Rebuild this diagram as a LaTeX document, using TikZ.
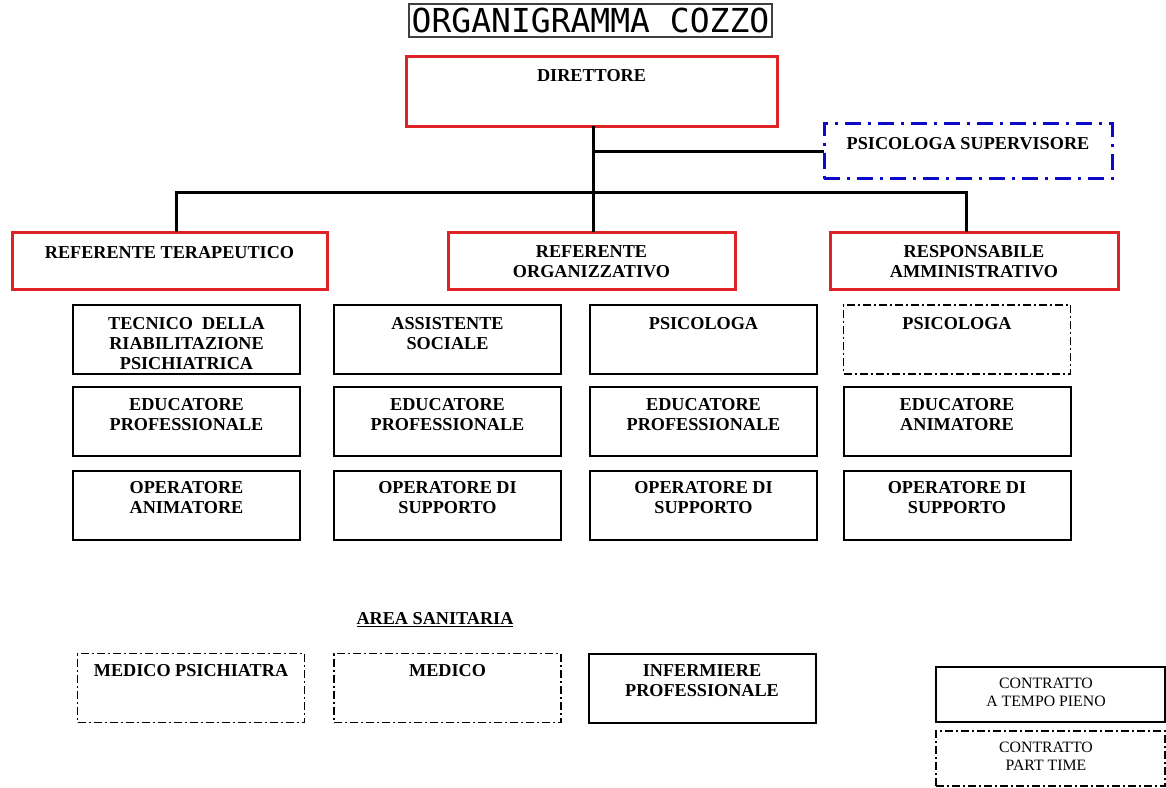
\documentclass[tikz,border=0pt]{standalone}
\usepackage{fontspec}
\setmainfont{Liberation Serif}
\newfontfamily\titlefont{DejaVu Sans Mono}
\definecolor{myred}{RGB}{222,34,38}
\definecolor{myblue}{RGB}{10,10,200}
\begin{document}
\begin{tikzpicture}[x=1pt,y=-1pt,
  redbox/.style={draw=myred,line width=3pt,inner sep=0,outer sep=0,rectangle},
  blkbox/.style={draw=black,line width=2pt,inner sep=0,outer sep=0,rectangle},
  dashbox/.style={draw=black,line width=1.4pt,inner sep=0,outer sep=0,rectangle,dash pattern=on 8pt off 3pt on 2pt off 3pt},
  bluebox/.style={draw=myblue,line width=3pt,inner sep=0,outer sep=0,rectangle,dash pattern=on 16pt off 7pt on 3pt off 7pt},
  small/.style={minimum width=227pt,minimum height=69pt},
  lbl/.style={font=\bfseries\fontsize{18.2}{20}\selectfont,align=center,inner sep=0,anchor=north},
  leg/.style={font=\fontsize{15.8}{18}\selectfont,align=center,inner sep=0,anchor=north},
  conn/.style={line width=3pt,black}]
\useasboundingbox (0,0) rectangle (1166,787);
\fill[white] (0,0) rectangle (1166,787);

% title
\node[draw=black!75,line width=1.4pt,minimum width=363pt,minimum height=33pt,inner sep=0,font=\titlefont\fontsize{33}{33}\selectfont] (title) at (590.5,20.5) {ORGANIGRAMMA COZZO};

% top level
\node[redbox,minimum width=371pt,minimum height=70pt] (dir) at (591.5,91) {};
\node[lbl] (dirT) at ([yshift=-13pt]dir.north) {DIRETTORE};

\node[bluebox,minimum width=288pt,minimum height=55pt] (sup) at (968,151) {};
\node[lbl] (supT) at ([yshift=-14pt]sup.north) {PSICOLOGA SUPERVISORE};

\node[redbox,minimum width=315pt,minimum height=57pt] (rt) at (169.5,260.5) {};
\node[lbl] (rtT) at ([yshift=-14pt]rt.north) {REFERENTE TERAPEUTICO};
\node[redbox,minimum width=287pt,minimum height=57pt] (ro) at (591.5,260.5) {};
\node[lbl] (roT) at ([yshift=-13pt]ro.north) {REFERENTE\\ORGANIZZATIVO};
\node[redbox,minimum width=288pt,minimum height=57pt] (ra) at (974,260.5) {};
\node[lbl] (raT) at ([yshift=-13pt]ra.north) {RESPONSABILE\\AMMINISTRATIVO};

% connectors
\coordinate (jn) at (593,192);
\draw[conn] ([xshift=1.5pt]dir.south) -- (jn);
\draw[conn] ([xshift=1.5pt]dir.south |- sup.west) -- (sup.west);
\draw[conn] ([xshift=6.5pt]rt.north) |- (jn) -| ([xshift=-8pt]ra.north);
\draw[conn] (jn) -- ([xshift=1.5pt]ro.north);

% column 1
\node[blkbox,small] (a1) at (186.5,339.5) {};
\node[lbl] (a1T) at ([yshift=-12pt]a1.north) {TECNICO\ \ DELLA\\RIABILITAZIONE\\PSICHIATRICA};
\node[blkbox,small] (a2) at (186.5,421.5) {};
\node[lbl] (a2T) at ([yshift=-11pt]a2.north) {EDUCATORE\\PROFESSIONALE};
\node[blkbox,small] (a3) at (186.5,505) {};
\node[lbl] (a3T) at ([yshift=-11pt]a3.north) {OPERATORE\\ANIMATORE};

% column 2
\node[blkbox,small] (b1) at (447.5,339.5) {};
\node[lbl] (b1T) at ([yshift=-12pt]b1.north) {ASSISTENTE\\SOCIALE};
\node[blkbox,small] (b2) at (447.5,421.5) {};
\node[lbl] (b2T) at ([yshift=-11pt]b2.north) {EDUCATORE\\PROFESSIONALE};
\node[blkbox,small] (b3) at (447.5,505) {};
\node[lbl] (b3T) at ([yshift=-11pt]b3.north) {OPERATORE DI\\SUPPORTO};

% column 3
\node[blkbox,small] (c1) at (703.5,339.5) {};
\node[lbl] (c1T) at ([yshift=-12pt]c1.north) {PSICOLOGA};
\node[blkbox,small] (c2) at (703.5,421.5) {};
\node[lbl] (c2T) at ([yshift=-11pt]c2.north) {EDUCATORE\\PROFESSIONALE};
\node[blkbox,small] (c3) at (703.5,505) {};
\node[lbl] (c3T) at ([yshift=-11pt]c3.north) {OPERATORE DI\\SUPPORTO};

% column 4
\node[dashbox,small] (d1) at (957,339.5) {};
\node[lbl] (d1T) at ([yshift=-12pt]d1.north) {PSICOLOGA};
\node[blkbox,small] (d2) at (957,421.5) {};
\node[lbl] (d2T) at ([yshift=-11pt]d2.north) {EDUCATORE\\ANIMATORE};
\node[blkbox,small] (d3) at (957,505) {};
\node[lbl] (d3T) at ([yshift=-11pt]d3.north) {OPERATORE DI\\SUPPORTO};

% area sanitaria
\node[lbl] (area) at (435,612) {\underline{AREA SANITARIA}};
\node[dashbox,small] (s1) at (191,688) {};
\node[lbl] (s1T) at ([yshift=-11pt]s1.north) {MEDICO PSICHIATRA};
\node[dashbox,small] (s2) at (447.5,688) {};
\node[lbl] (s2T) at ([yshift=-11pt]s2.north) {MEDICO};
\node[blkbox,small] (s3) at (702,688) {};
\node[lbl] (s3T) at ([yshift=-11pt]s3.north) {INFERMIERE\\PROFESSIONALE};

% legend
\node[blkbox,line width=1.6pt,minimum width=229pt,minimum height=55pt] (l1) at (1050.5,694.5) {};
\node[leg] (l1T) at (1046,678) {CONTRATTO\\A TEMPO PIENO};
\node[dashbox,minimum width=229pt,minimum height=55pt] (l2) at (1050.5,758.5) {};
\node[leg] (l2T) at (1046,742) {CONTRATTO\\PART TIME};
\end{tikzpicture}
\end{document}
